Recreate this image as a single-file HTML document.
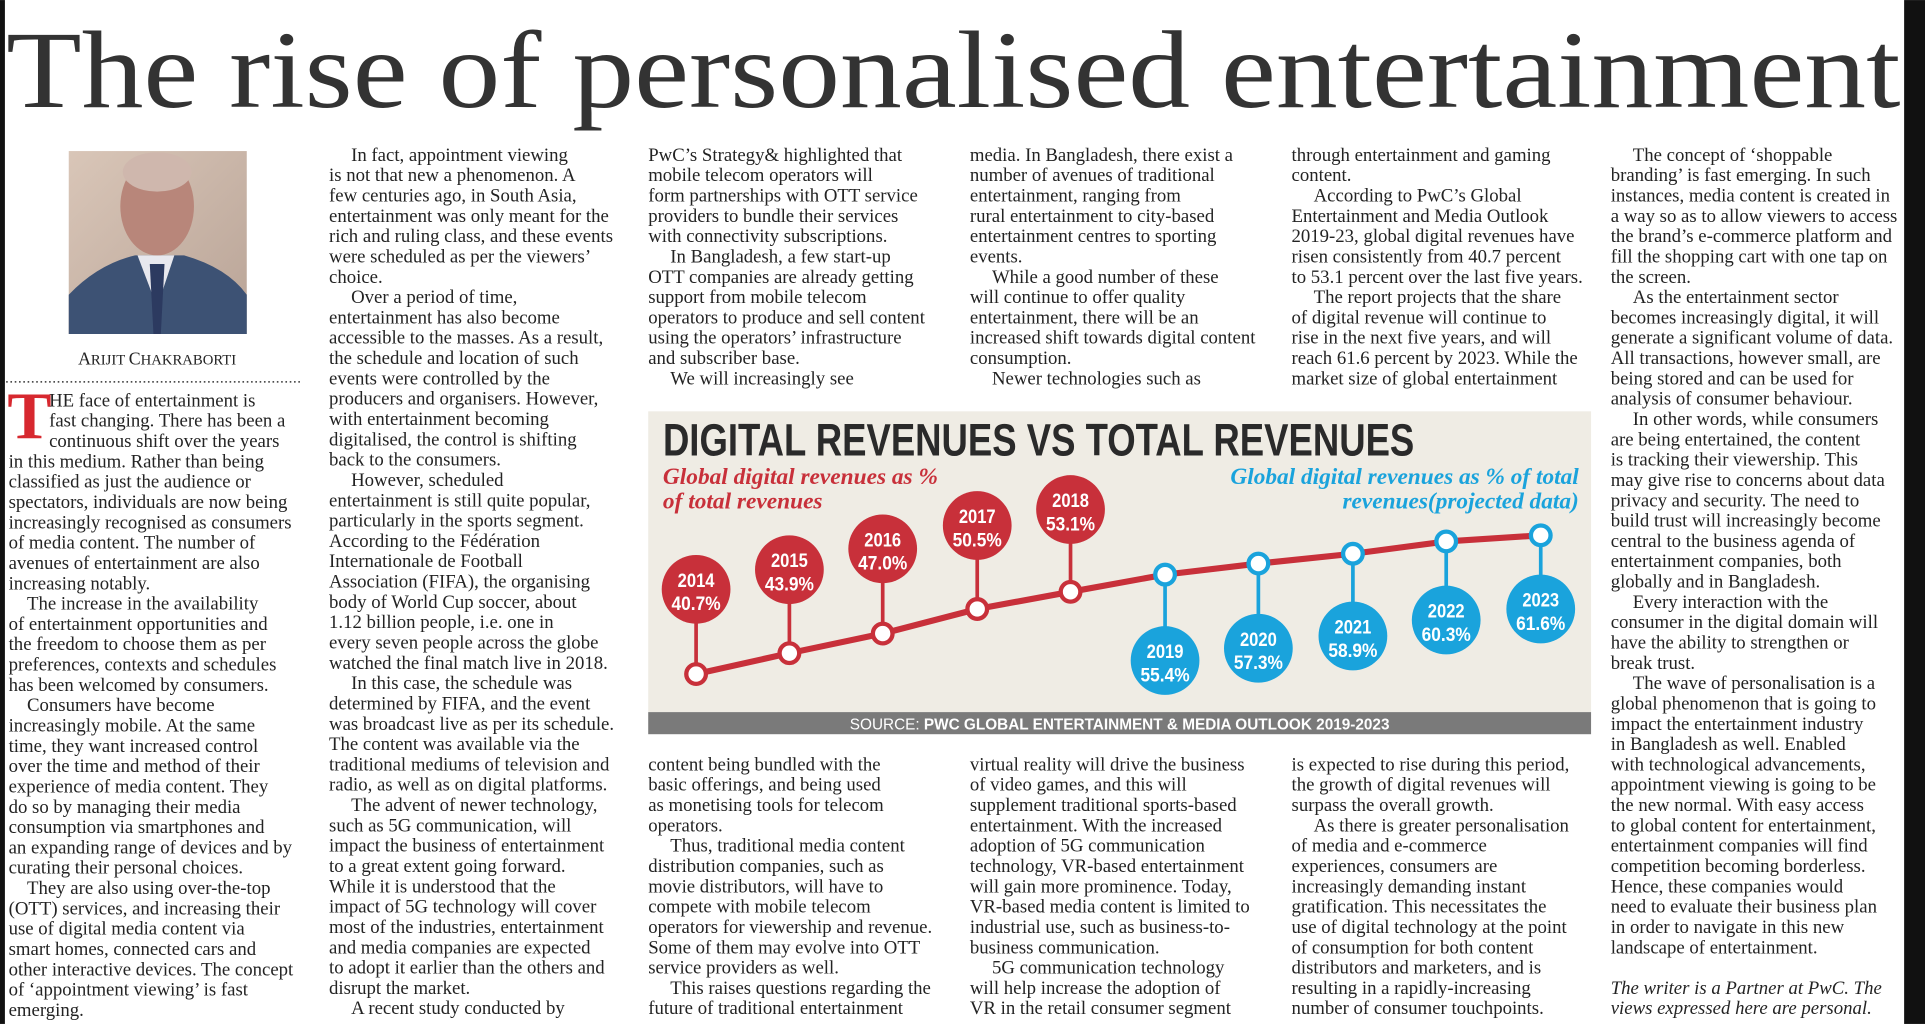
<!DOCTYPE html>
<html><head><meta charset="utf-8"><style>
html,body{margin:0;padding:0;background:#fff;}
svg{display:block;}
.b{font-family:"Liberation Serif",serif;font-size:15.3px;fill:#232323;}
.cb{font-family:"Liberation Sans Narrow","Liberation Sans",sans-serif;font-weight:bold;fill:#fff;text-anchor:middle;font-size:16px;}
</style></head><body>
<svg width="1925" height="1024" viewBox="0 0 1568 834" xmlns="http://www.w3.org/2000/svg">
<rect x="0" y="0" width="1568" height="834" fill="#fff"/>
<rect x="0" y="0" width="4" height="834" fill="#111"/>
<rect x="1551" y="0" width="17" height="834" fill="#111"/>
<text x="5" y="87" font-family="Liberation Serif,serif" font-size="90" fill="#333" textLength="1543" lengthAdjust="spacingAndGlyphs">The rise of personalised entertainment</text>

<!-- photo -->
<defs><linearGradient id="pg" x1="0" y1="0" x2="1" y2="1"><stop offset="0" stop-color="#d9c6b8"/><stop offset="1" stop-color="#b9a497"/></linearGradient></defs>
<rect x="56" y="123" width="145" height="149" fill="url(#pg)"/>
<path d="M56 272 L56 240 Q80 215 110 208 L150 208 Q185 218 201 240 L201 272 Z" fill="#3d5274"/>
<path d="M112 208 L128 250 L142 208 Z" fill="#e8e8ee"/>
<path d="M122 215 L134 215 L131 272 L125 272 Z" fill="#2c3a60"/>
<ellipse cx="128" cy="168" rx="30" ry="40" fill="#b8867a"/>
<ellipse cx="128" cy="140" rx="28" ry="16" fill="#cfb7ad"/>
<text x="128" y="297" text-anchor="middle" font-family="Liberation Serif,serif" font-size="12" fill="#222"><tspan font-size="14.5">A</tspan>RIJIT <tspan font-size="14.5">C</tspan>HAKRABORTI</text>
<line x1="5" y1="311" x2="245" y2="311" stroke="#333" stroke-width="1.3" stroke-dasharray="1.3 2.2"/>

<!-- col1 -->
<text x="6" y="357" font-family="Liberation Serif,serif" font-weight="bold" font-size="54" fill="#d7282f">T</text>
<text class="b" x="40" y="331">
<tspan x="40">HE face of entertainment is</tspan>
<tspan x="40" dy="16.55">fast changing. There has been a</tspan>
<tspan x="40" dy="16.55">continuous shift over the years</tspan>
<tspan x="7" dy="16.55">in this medium. Rather than being</tspan>
<tspan x="7" dy="16.55">classified as just the audience or</tspan>
<tspan x="7" dy="16.55">spectators, individuals are now being</tspan>
<tspan x="7" dy="16.55">increasingly recognised as consumers</tspan>
<tspan x="7" dy="16.55">of media content. The number of</tspan>
<tspan x="7" dy="16.55">avenues of entertainment are also</tspan>
<tspan x="7" dy="16.55">increasing notably.</tspan>
<tspan x="22" dy="16.55">The increase in the availability</tspan>
<tspan x="7" dy="16.55">of entertainment opportunities and</tspan>
<tspan x="7" dy="16.55">the freedom to choose them as per</tspan>
<tspan x="7" dy="16.55">preferences, contexts and schedules</tspan>
<tspan x="7" dy="16.55">has been welcomed by consumers.</tspan>
<tspan x="22" dy="16.55">Consumers have become</tspan>
<tspan x="7" dy="16.55">increasingly mobile. At the same</tspan>
<tspan x="7" dy="16.55">time, they want increased control</tspan>
<tspan x="7" dy="16.55">over the time and method of their</tspan>
<tspan x="7" dy="16.55">experience of media content. They</tspan>
<tspan x="7" dy="16.55">do so by managing their media</tspan>
<tspan x="7" dy="16.55">consumption via smartphones and</tspan>
<tspan x="7" dy="16.55">an expanding range of devices and by</tspan>
<tspan x="7" dy="16.55">curating their personal choices.</tspan>
<tspan x="22" dy="16.55">They are also using over-the-top</tspan>
<tspan x="7" dy="16.55">(OTT) services, and increasing their</tspan>
<tspan x="7" dy="16.55">use of digital media content via</tspan>
<tspan x="7" dy="16.55">smart homes, connected cars and</tspan>
<tspan x="7" dy="16.55">other interactive devices. The concept</tspan>
<tspan x="7" dy="16.55">of ‘appointment viewing’ is fast</tspan>
<tspan x="7" dy="16.55">emerging.</tspan>
</text>

<!-- col2 -->
<text class="b" x="286" y="131">
<tspan x="286">In fact, appointment viewing</tspan>
<tspan x="268" dy="16.55">is not that new a phenomenon. A</tspan>
<tspan x="268" dy="16.55">few centuries ago, in South Asia,</tspan>
<tspan x="268" dy="16.55">entertainment was only meant for the</tspan>
<tspan x="268" dy="16.55">rich and ruling class, and these events</tspan>
<tspan x="268" dy="16.55">were scheduled as per the viewers’</tspan>
<tspan x="268" dy="16.55">choice.</tspan>
<tspan x="286" dy="16.55">Over a period of time,</tspan>
<tspan x="268" dy="16.55">entertainment has also become</tspan>
<tspan x="268" dy="16.55">accessible to the masses. As a result,</tspan>
<tspan x="268" dy="16.55">the schedule and location of such</tspan>
<tspan x="268" dy="16.55">events were controlled by the</tspan>
<tspan x="268" dy="16.55">producers and organisers. However,</tspan>
<tspan x="268" dy="16.55">with entertainment becoming</tspan>
<tspan x="268" dy="16.55">digitalised, the control is shifting</tspan>
<tspan x="268" dy="16.55">back to the consumers.</tspan>
<tspan x="286" dy="16.55">However, scheduled</tspan>
<tspan x="268" dy="16.55">entertainment is still quite popular,</tspan>
<tspan x="268" dy="16.55">particularly in the sports segment.</tspan>
<tspan x="268" dy="16.55">According to the Fédération</tspan>
<tspan x="268" dy="16.55">Internationale de Football</tspan>
<tspan x="268" dy="16.55">Association (FIFA), the organising</tspan>
<tspan x="268" dy="16.55">body of World Cup soccer, about</tspan>
<tspan x="268" dy="16.55">1.12 billion people, i.e. one in</tspan>
<tspan x="268" dy="16.55">every seven people across the globe</tspan>
<tspan x="268" dy="16.55">watched the final match live in 2018.</tspan>
<tspan x="286" dy="16.55">In this case, the schedule was</tspan>
<tspan x="268" dy="16.55">determined by FIFA, and the event</tspan>
<tspan x="268" dy="16.55">was broadcast live as per its schedule.</tspan>
<tspan x="268" dy="16.55">The content was available via the</tspan>
<tspan x="268" dy="16.55">traditional mediums of television and</tspan>
<tspan x="268" dy="16.55">radio, as well as on digital platforms.</tspan>
<tspan x="286" dy="16.55">The advent of newer technology,</tspan>
<tspan x="268" dy="16.55">such as 5G communication, will</tspan>
<tspan x="268" dy="16.55">impact the business of entertainment</tspan>
<tspan x="268" dy="16.55">to a great extent going forward.</tspan>
<tspan x="268" dy="16.55">While it is understood that the</tspan>
<tspan x="268" dy="16.55">impact of 5G technology will cover</tspan>
<tspan x="268" dy="16.55">most of the industries, entertainment</tspan>
<tspan x="268" dy="16.55">and media companies are expected</tspan>
<tspan x="268" dy="16.55">to adopt it earlier than the others and</tspan>
<tspan x="268" dy="16.55">disrupt the market.</tspan>
<tspan x="286" dy="16.55">A recent study conducted by</tspan>
</text>

<!-- col3 top -->
<text class="b" x="528" y="131">
<tspan x="528">PwC’s Strategy&amp; highlighted that</tspan>
<tspan x="528" dy="16.55">mobile telecom operators will</tspan>
<tspan x="528" dy="16.55">form partnerships with OTT service</tspan>
<tspan x="528" dy="16.55">providers to bundle their services</tspan>
<tspan x="528" dy="16.55">with connectivity subscriptions.</tspan>
<tspan x="546" dy="16.55">In Bangladesh, a few start-up</tspan>
<tspan x="528" dy="16.55">OTT companies are already getting</tspan>
<tspan x="528" dy="16.55">support from mobile telecom</tspan>
<tspan x="528" dy="16.55">operators to produce and sell content</tspan>
<tspan x="528" dy="16.55">using the operators’ infrastructure</tspan>
<tspan x="528" dy="16.55">and subscriber base.</tspan>
<tspan x="546" dy="16.55">We will increasingly see</tspan>
</text>
<!-- col4 top -->
<text class="b" x="790" y="131">
<tspan x="790">media. In Bangladesh, there exist a</tspan>
<tspan x="790" dy="16.55">number of avenues of traditional</tspan>
<tspan x="790" dy="16.55">entertainment, ranging from</tspan>
<tspan x="790" dy="16.55">rural entertainment to city-based</tspan>
<tspan x="790" dy="16.55">entertainment centres to sporting</tspan>
<tspan x="790" dy="16.55">events.</tspan>
<tspan x="808" dy="16.55">While a good number of these</tspan>
<tspan x="790" dy="16.55">will continue to offer quality</tspan>
<tspan x="790" dy="16.55">entertainment, there will be an</tspan>
<tspan x="790" dy="16.55">increased shift towards digital content</tspan>
<tspan x="790" dy="16.55">consumption.</tspan>
<tspan x="808" dy="16.55">Newer technologies such as</tspan>
</text>
<!-- col5 top -->
<text class="b" x="1052" y="131">
<tspan x="1052">through entertainment and gaming</tspan>
<tspan x="1052" dy="16.55">content.</tspan>
<tspan x="1070" dy="16.55">According to PwC’s Global</tspan>
<tspan x="1052" dy="16.55">Entertainment and Media Outlook</tspan>
<tspan x="1052" dy="16.55">2019-23, global digital revenues have</tspan>
<tspan x="1052" dy="16.55">risen consistently from 40.7 percent</tspan>
<tspan x="1052" dy="16.55">to 53.1 percent over the last five years.</tspan>
<tspan x="1070" dy="16.55">The report projects that the share</tspan>
<tspan x="1052" dy="16.55">of digital revenue will continue to</tspan>
<tspan x="1052" dy="16.55">rise in the next five years, and will</tspan>
<tspan x="1052" dy="16.55">reach 61.6 percent by 2023. While the</tspan>
<tspan x="1052" dy="16.55">market size of global entertainment</tspan>
</text>

<!-- bottom cols -->
<text class="b" x="528" y="627.5">
<tspan x="528">content being bundled with the</tspan>
<tspan x="528" dy="16.55">basic offerings, and being used</tspan>
<tspan x="528" dy="16.55">as monetising tools for telecom</tspan>
<tspan x="528" dy="16.55">operators.</tspan>
<tspan x="546" dy="16.55">Thus, traditional media content</tspan>
<tspan x="528" dy="16.55">distribution companies, such as</tspan>
<tspan x="528" dy="16.55">movie distributors, will have to</tspan>
<tspan x="528" dy="16.55">compete with mobile telecom</tspan>
<tspan x="528" dy="16.55">operators for viewership and revenue.</tspan>
<tspan x="528" dy="16.55">Some of them may evolve into OTT</tspan>
<tspan x="528" dy="16.55">service providers as well.</tspan>
<tspan x="546" dy="16.55">This raises questions regarding the</tspan>
<tspan x="528" dy="16.55">future of traditional entertainment</tspan>
</text>
<text class="b" x="790" y="627.5">
<tspan x="790">virtual reality will drive the business</tspan>
<tspan x="790" dy="16.55">of video games, and this will</tspan>
<tspan x="790" dy="16.55">supplement traditional sports-based</tspan>
<tspan x="790" dy="16.55">entertainment.  With the increased</tspan>
<tspan x="790" dy="16.55">adoption of 5G communication</tspan>
<tspan x="790" dy="16.55">technology, VR-based entertainment</tspan>
<tspan x="790" dy="16.55">will gain more prominence. Today,</tspan>
<tspan x="790" dy="16.55">VR-based media content is limited to</tspan>
<tspan x="790" dy="16.55">industrial use, such as business-to-</tspan>
<tspan x="790" dy="16.55">business communication.</tspan>
<tspan x="808" dy="16.55">5G communication technology</tspan>
<tspan x="790" dy="16.55">will help increase the adoption of</tspan>
<tspan x="790" dy="16.55">VR in the retail consumer segment</tspan>
</text>
<text class="b" x="1052" y="627.5">
<tspan x="1052">is expected to rise during this period,</tspan>
<tspan x="1052" dy="16.55">the growth of digital revenues will</tspan>
<tspan x="1052" dy="16.55">surpass the overall growth.</tspan>
<tspan x="1070" dy="16.55">As there is greater personalisation</tspan>
<tspan x="1052" dy="16.55">of media and e-commerce</tspan>
<tspan x="1052" dy="16.55">experiences, consumers are</tspan>
<tspan x="1052" dy="16.55">increasingly demanding instant</tspan>
<tspan x="1052" dy="16.55">gratification. This necessitates the</tspan>
<tspan x="1052" dy="16.55">use of digital technology at the point</tspan>
<tspan x="1052" dy="16.55">of consumption for both content</tspan>
<tspan x="1052" dy="16.55">distributors and marketers, and is</tspan>
<tspan x="1052" dy="16.55">resulting in a rapidly-increasing</tspan>
<tspan x="1052" dy="16.55">number of consumer touchpoints.</tspan>
</text>

<!-- col6 -->
<text class="b" x="1330" y="131">
<tspan x="1330">The concept of ‘shoppable</tspan>
<tspan x="1312" dy="16.55">branding’ is fast emerging. In such</tspan>
<tspan x="1312" dy="16.55">instances, media content is created in</tspan>
<tspan x="1312" dy="16.55">a way so as to allow viewers to access</tspan>
<tspan x="1312" dy="16.55">the brand’s e-commerce platform and</tspan>
<tspan x="1312" dy="16.55">fill the shopping cart with one tap on</tspan>
<tspan x="1312" dy="16.55">the screen.</tspan>
<tspan x="1330" dy="16.55">As the entertainment sector</tspan>
<tspan x="1312" dy="16.55">becomes increasingly digital, it will</tspan>
<tspan x="1312" dy="16.55">generate a significant volume of data.</tspan>
<tspan x="1312" dy="16.55">All transactions, however small, are</tspan>
<tspan x="1312" dy="16.55">being stored and can be used for</tspan>
<tspan x="1312" dy="16.55">analysis of consumer behaviour.</tspan>
<tspan x="1330" dy="16.55">In other words, while consumers</tspan>
<tspan x="1312" dy="16.55">are being entertained, the content</tspan>
<tspan x="1312" dy="16.55">is tracking their viewership. This</tspan>
<tspan x="1312" dy="16.55">may give rise to concerns about data</tspan>
<tspan x="1312" dy="16.55">privacy and security. The need to</tspan>
<tspan x="1312" dy="16.55">build trust will increasingly become</tspan>
<tspan x="1312" dy="16.55">central to the business agenda of</tspan>
<tspan x="1312" dy="16.55">entertainment companies, both</tspan>
<tspan x="1312" dy="16.55">globally and in Bangladesh.</tspan>
<tspan x="1330" dy="16.55">Every interaction with the</tspan>
<tspan x="1312" dy="16.55">consumer in the digital domain will</tspan>
<tspan x="1312" dy="16.55">have the ability to strengthen or</tspan>
<tspan x="1312" dy="16.55">break trust.</tspan>
<tspan x="1330" dy="16.55">The wave of personalisation is a</tspan>
<tspan x="1312" dy="16.55">global phenomenon that is going to</tspan>
<tspan x="1312" dy="16.55">impact the entertainment industry</tspan>
<tspan x="1312" dy="16.55">in Bangladesh as well.  Enabled</tspan>
<tspan x="1312" dy="16.55">with technological advancements,</tspan>
<tspan x="1312" dy="16.55">appointment viewing is going to be</tspan>
<tspan x="1312" dy="16.55">the new normal. With easy access</tspan>
<tspan x="1312" dy="16.55">to global content for entertainment,</tspan>
<tspan x="1312" dy="16.55">entertainment companies will find</tspan>
<tspan x="1312" dy="16.55">competition becoming borderless.</tspan>
<tspan x="1312" dy="16.55">Hence, these companies would</tspan>
<tspan x="1312" dy="16.55">need to evaluate their business plan</tspan>
<tspan x="1312" dy="16.55">in order to navigate in this new</tspan>
<tspan x="1312" dy="16.55">landscape of entertainment.</tspan>
<tspan x="1312" dy="33.1" font-style="italic">The writer is a Partner at PwC. The</tspan>
<tspan x="1312" dy="16.55" font-style="italic">views expressed here are personal.</tspan>
</text>

<!-- chart -->
<rect x="528" y="335" width="768" height="245" fill="#efece4"/>
<rect x="528" y="580" width="768" height="18" fill="#7a7a7a"/>
<text x="912" y="594" text-anchor="middle" font-family="Liberation Sans,sans-serif" font-size="12.5" fill="#fff">SOURCE: <tspan font-weight="bold">PWC GLOBAL ENTERTAINMENT &amp; MEDIA OUTLOOK 2019-2023</tspan></text>
<text x="540" y="371" font-family="Liberation Sans Narrow,Liberation Sans,sans-serif" font-weight="bold" font-size="37" fill="#2a2a2a" textLength="612" lengthAdjust="spacingAndGlyphs">DIGITAL REVENUES VS TOTAL REVENUES</text>
<g font-family="Liberation Serif,serif" font-style="italic" font-weight="bold" font-size="19">
<text x="540" y="394" fill="#c8303a" textLength="224" lengthAdjust="spacingAndGlyphs">Global digital revenues as %</text>
<text x="540" y="414" fill="#c8303a" textLength="130" lengthAdjust="spacingAndGlyphs">of total revenues</text>
<text x="1286" y="394" fill="#1aa3dc" text-anchor="end">Global digital revenues as % of total</text>
<text x="1286" y="414" fill="#1aa3dc" text-anchor="end">revenues(projected data)</text>
</g>
<!-- stems -->
<g stroke-width="3">
<line x1="567" y1="480" x2="567" y2="549" stroke="#c8303a"/>
<line x1="643" y1="464" x2="643" y2="532" stroke="#c8303a"/>
<line x1="719" y1="447" x2="719" y2="516" stroke="#c8303a"/>
<line x1="796" y1="428" x2="796" y2="496" stroke="#c8303a"/>
<line x1="872" y1="415" x2="872" y2="482" stroke="#c8303a"/>
<line x1="949" y1="468" x2="949" y2="538" stroke="#1aa3dc"/>
<line x1="1025" y1="459" x2="1025" y2="528" stroke="#1aa3dc"/>
<line x1="1102" y1="451" x2="1102" y2="518" stroke="#1aa3dc"/>
<line x1="1178" y1="441" x2="1178" y2="505" stroke="#1aa3dc"/>
<line x1="1255" y1="436" x2="1255" y2="496" stroke="#1aa3dc"/>
</g>
<polyline points="567,549 643,532 719,516 796,496 872,482 949,468 1025,459 1102,451 1178,441 1255,436" fill="none" stroke="#c8303a" stroke-width="5"/>
<g fill="#fff" stroke-width="3.5">
<circle cx="567" cy="549" r="8" stroke="#c8303a"/>
<circle cx="643" cy="532" r="8" stroke="#c8303a"/>
<circle cx="719" cy="516" r="8" stroke="#c8303a"/>
<circle cx="796" cy="496" r="8" stroke="#c8303a"/>
<circle cx="872" cy="482" r="8" stroke="#c8303a"/>
<circle cx="949" cy="468" r="8" stroke="#1aa3dc"/>
<circle cx="1025" cy="459" r="8" stroke="#1aa3dc"/>
<circle cx="1102" cy="451" r="8" stroke="#1aa3dc"/>
<circle cx="1178" cy="441" r="8" stroke="#1aa3dc"/>
<circle cx="1255" cy="436" r="8" stroke="#1aa3dc"/>
</g>
<g fill="#c8303a">
<circle cx="567" cy="480" r="28"/><circle cx="643" cy="464" r="28"/><circle cx="719" cy="447" r="28"/><circle cx="796" cy="428" r="28"/><circle cx="872" cy="415" r="28"/>
</g>
<g fill="#1aa3dc">
<circle cx="949" cy="538" r="28"/><circle cx="1025" cy="528" r="28"/><circle cx="1102" cy="518" r="28"/><circle cx="1178" cy="505" r="28"/><circle cx="1255" cy="496" r="28"/>
</g>
<g>
<text class="cb" x="567" y="478" textLength="30" lengthAdjust="spacingAndGlyphs">2014</text><text class="cb" x="567" y="497" textLength="40" lengthAdjust="spacingAndGlyphs">40.7%</text>
<text class="cb" x="643" y="462" textLength="30" lengthAdjust="spacingAndGlyphs">2015</text><text class="cb" x="643" y="481" textLength="40" lengthAdjust="spacingAndGlyphs">43.9%</text>
<text class="cb" x="719" y="445" textLength="30" lengthAdjust="spacingAndGlyphs">2016</text><text class="cb" x="719" y="464" textLength="40" lengthAdjust="spacingAndGlyphs">47.0%</text>
<text class="cb" x="796" y="426" textLength="30" lengthAdjust="spacingAndGlyphs">2017</text><text class="cb" x="796" y="445" textLength="40" lengthAdjust="spacingAndGlyphs">50.5%</text>
<text class="cb" x="872" y="413" textLength="30" lengthAdjust="spacingAndGlyphs">2018</text><text class="cb" x="872" y="432" textLength="40" lengthAdjust="spacingAndGlyphs">53.1%</text>
<text class="cb" x="949" y="536" textLength="30" lengthAdjust="spacingAndGlyphs">2019</text><text class="cb" x="949" y="555" textLength="40" lengthAdjust="spacingAndGlyphs">55.4%</text>
<text class="cb" x="1025" y="526" textLength="30" lengthAdjust="spacingAndGlyphs">2020</text><text class="cb" x="1025" y="545" textLength="40" lengthAdjust="spacingAndGlyphs">57.3%</text>
<text class="cb" x="1102" y="516" textLength="30" lengthAdjust="spacingAndGlyphs">2021</text><text class="cb" x="1102" y="535" textLength="40" lengthAdjust="spacingAndGlyphs">58.9%</text>
<text class="cb" x="1178" y="503" textLength="30" lengthAdjust="spacingAndGlyphs">2022</text><text class="cb" x="1178" y="522" textLength="40" lengthAdjust="spacingAndGlyphs">60.3%</text>
<text class="cb" x="1255" y="494" textLength="30" lengthAdjust="spacingAndGlyphs">2023</text><text class="cb" x="1255" y="513" textLength="40" lengthAdjust="spacingAndGlyphs">61.6%</text>
</g>
</svg>
</body></html>
